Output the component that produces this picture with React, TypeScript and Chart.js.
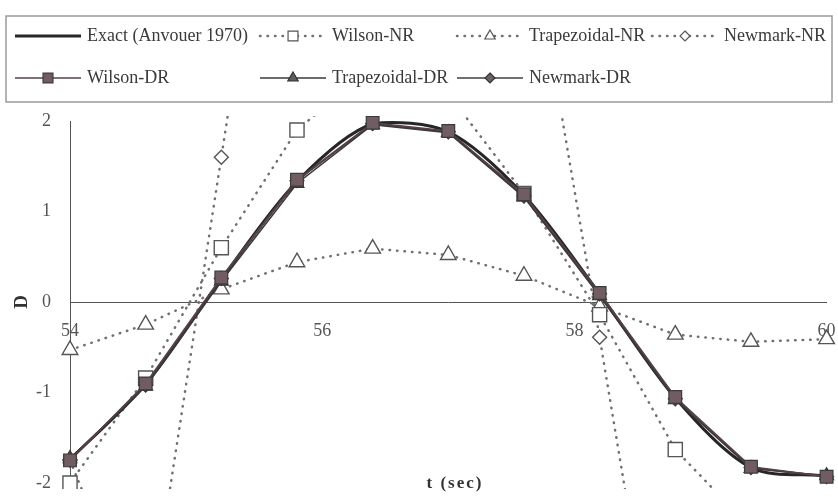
import React, { useEffect, useRef } from 'react';
import { Chart, registerables } from 'chart.js';
Chart.register(...registerables);

// ---- data ----
const times = [54, 54.6, 55.2, 55.8, 56.4, 57.0, 57.6, 58.2, 58.8, 59.4, 60.0];
const exactD = [-1.74, -0.91, 0.25, 1.33, 1.97, 1.88, 1.18, 0.09, -1.06, -1.83, -1.92];
const wilsonNR = [-2.0, -0.84, 0.6, 1.9, 2.6, 2.3, 1.2, -0.14, -1.63, -2.5, -2.9];
const trapNR = [-0.53, -0.25, 0.14, 0.44, 0.59, 0.52, 0.29, -0.05, -0.36, -0.44, -0.41];
const newmarkNR = [-1.75, -3.8, 1.6, 7.0, 6.0, 3.0, 4.5, -0.39, -5.4, -6.0, -4.0];
const wilsonDR = [-1.75, -0.9, 0.27, 1.35, 1.98, 1.89, 1.19, 0.1, -1.05, -1.82, -1.93];
const trapDR = [-1.73, -0.93, 0.23, 1.31, 1.96, 1.87, 1.16, 0.07, -1.08, -1.84, -1.92];
const newmarkDR = [-1.74, -0.92, 0.26, 1.34, 1.97, 1.88, 1.17, 0.09, -1.07, -1.83, -1.93];
const xTickValues = [54, 56, 58, 60];
const yTickValues = [-2, -1, 0, 1, 2];
const xTitle = 't (sec)';
const yTitle = 'D';

const SERIF = '"Liberation Serif", "DejaVu Serif", serif';

const pts = (arr: number[]) => times.map((t, i) => ({ x: t, y: arr[i] }));
const clip = { left: 10, top: 5, right: 10, bottom: 6 };

const dotted = {
  borderColor: '#707070',
  borderWidth: 2.5,
  borderDash: [0.5, 7],
  borderCapStyle: 'round' as const,
  pointBackgroundColor: '#ffffff',
  pointBorderColor: '#555555',
  pointBorderWidth: 1.4,
  tension: 0,
  clip,
};

const legendLayout = [
  { label: 'Exact (Anvouer 1970)', idx: 3, col: 0, row: 0 },
  { label: 'Wilson-NR', idx: 4, col: 1, row: 0 },
  { label: 'Trapezoidal-NR', idx: 5, col: 2, row: 0 },
  { label: 'Newmark-NR', idx: 6, col: 3, row: 0 },
  { label: 'Wilson-DR', idx: 0, col: 0, row: 1 },
  { label: 'Trapezoidal-DR', idx: 1, col: 1, row: 1 },
  { label: 'Newmark-DR', idx: 2, col: 2, row: 1 },
];
const colX = [15, 260, 457, 652];
const rowY = [36, 78];

function drawMarker(ctx: CanvasRenderingContext2D, style: string, x: number, y: number, r: number, fill: string, stroke: string, lw: number) {
  ctx.beginPath();
  if (style === 'rect') {
    const s = r * Math.SQRT1_2;
    ctx.rect(x - s, y - s, 2 * s, 2 * s);
  } else if (style === 'triangle') {
    for (let k = 0; k < 3; k++) {
      const a = -Math.PI / 2 + (k * 2 * Math.PI) / 3;
      const px = x + Math.cos(a) * r;
      const py = y + Math.sin(a) * r;
      if (k === 0) ctx.moveTo(px, py); else ctx.lineTo(px, py);
    }
    ctx.closePath();
  } else if (style === 'rectRot') {
    ctx.moveTo(x, y - r);
    ctx.lineTo(x + r, y);
    ctx.lineTo(x, y + r);
    ctx.lineTo(x - r, y);
    ctx.closePath();
  }
  ctx.fillStyle = fill;
  ctx.fill();
  ctx.lineWidth = lw;
  ctx.strokeStyle = stroke;
  ctx.stroke();
}

const customPlugin = {
  id: 'customDecor',
  afterDraw(chart: any) {
    const ctx: CanvasRenderingContext2D = chart.ctx;
    const area = chart.chartArea;
    ctx.save();
    // legend box
    ctx.strokeStyle = '#9a9a9a';
    ctx.lineWidth = 1.5;
    ctx.strokeRect(6, 16, 826, 86);
    ctx.font = `18px ${SERIF}`;
    ctx.textBaseline = 'middle';
    ctx.textAlign = 'left';
    legendLayout.forEach((it) => {
      const ds = chart.data.datasets[it.idx];
      const x0 = colX[it.col];
      const y = rowY[it.row];
      const w = 66;
      ctx.save();
      ctx.beginPath();
      ctx.strokeStyle = ds.borderColor;
      ctx.lineWidth = ds.borderWidth;
      ctx.lineCap = ds.borderCapStyle || 'butt';
      ctx.setLineDash(ds.borderDash || []);
      ctx.moveTo(x0, y);
      ctx.lineTo(x0 + w, y);
      ctx.stroke();
      ctx.setLineDash([]);
      if (ds.pointRadius > 0) {
        const r = ds.pointStyle === 'rect' ? 7 : ds.pointStyle === 'triangle' ? 6 : 5;
        drawMarker(ctx, ds.pointStyle, x0 + w / 2, y, r, ds.pointBackgroundColor, ds.pointBorderColor, 1.2);
      }
      ctx.restore();
      ctx.fillStyle = '#3a3a3a';
      ctx.fillText(it.label, x0 + w + 6, y);
    });
    // axis titles
    ctx.fillStyle = '#333';
    ctx.font = `bold 17px ${SERIF}`;
    ctx.textAlign = 'center';
    (ctx as any).letterSpacing = '2px';
    ctx.fillText(xTitle, 455, area.bottom + 1);
    (ctx as any).letterSpacing = '0px';
    ctx.save();
    ctx.translate(22, chart.scales.y.getPixelForValue(0));
    ctx.rotate(-Math.PI / 2);
    ctx.font = `bold 19px ${SERIF}`;
    ctx.fillText(yTitle, 0, 0);
    ctx.restore();
    ctx.restore();
  },
};

const bgPlugin = {
  id: 'bg',
  beforeDraw(chart: any) {
    const ctx = chart.ctx;
    ctx.save();
    ctx.fillStyle = '#fff';
    ctx.fillRect(0, 0, chart.width, chart.height);
    ctx.restore();
  },
};

const zeroPad = (scale: any) => {
  scale.paddingTop = 0;
  scale.paddingBottom = 0;
  scale.paddingLeft = 0;
  scale.paddingRight = 0;
};

export default function App() {
  const ref = useRef<HTMLCanvasElement | null>(null);
  useEffect(() => {
    if (!ref.current) return;
    const chart = new Chart(ref.current, {
      type: 'line',
      data: {
        datasets: [
          {
            label: 'Wilson-DR',
            data: pts(wilsonDR),
            borderColor: '#574048',
            borderWidth: 1.6,
            pointStyle: 'rect',
            pointRadius: 9,
            pointBackgroundColor: '#715c61',
            pointBorderColor: '#3b3b3b',
            pointBorderWidth: 1.2,
            tension: 0,
            clip,
          },
          {
            label: 'Trapezoidal-DR',
            data: pts(trapDR),
            borderColor: '#3a3a3a',
            borderWidth: 1.6,
            pointStyle: 'triangle',
            pointRadius: 8,
            pointBackgroundColor: '#5e5e5e',
            pointBorderColor: '#333',
            pointBorderWidth: 1.2,
            tension: 0,
            clip,
          },
          {
            label: 'Newmark-DR',
            data: pts(newmarkDR),
            borderColor: '#404040',
            borderWidth: 1.6,
            pointStyle: 'rectRot',
            pointRadius: 7,
            pointBackgroundColor: '#6e6164',
            pointBorderColor: '#333',
            pointBorderWidth: 1.2,
            tension: 0,
            clip,
          },
          {
            label: 'Exact (Anvouer 1970)',
            data: pts(exactD),
            borderColor: '#262626',
            borderWidth: 3,
            pointRadius: 0,
            tension: 0.3,
            clip,
          },
          { label: 'Wilson-NR', data: pts(wilsonNR), pointStyle: 'rect', pointRadius: 10, ...dotted },
          { label: 'Trapezoidal-NR', data: pts(trapNR), pointStyle: 'triangle', pointRadius: 9, ...dotted },
          { label: 'Newmark-NR', data: pts(newmarkNR), pointStyle: 'rectRot', pointRadius: 7, ...dotted },
        ],
      } as any,
      options: {
        animation: false,
        responsive: false,
        devicePixelRatio: 1,
        layout: { padding: { top: 121, right: 8, bottom: 14, left: 0 } },
        plugins: { legend: { display: false }, tooltip: { enabled: false } },
        scales: {
          x: {
            type: 'linear',
            min: 54,
            max: 60,
            position: { y: 0 } as any,
            grid: { display: false, drawTicks: false },
            border: { display: true, color: '#555', width: 1 },
            afterBuildTicks: (scale: any) => {
              scale.ticks = xTickValues.map((v) => ({ value: v }));
            },
            afterFit: zeroPad,
            ticks: {
              color: '#555',
              font: { family: SERIF, size: 18 },
              padding: 18,
              maxRotation: 0,
              autoSkip: false,
            },
          },
          y: {
            type: 'linear',
            min: -2,
            max: 2,
            grid: { display: false, drawTicks: false },
            border: { display: true, color: '#555', width: 1 },
            afterBuildTicks: (scale: any) => {
              scale.ticks = yTickValues.map((v) => ({ value: v }));
            },
            afterFit: (scale: any) => {
              scale.width = 70;
              zeroPad(scale);
            },
            ticks: {
              color: '#555',
              font: { family: SERIF, size: 18 },
              padding: 19,
            },
          },
        },
      } as any,
      plugins: [bgPlugin, customPlugin],
    });
    return () => chart.destroy();
  }, []);
  return (
    <div style={{ position: 'fixed', left: 0, top: 0, width: 838, height: 497, background: '#fff' }}>
      <canvas ref={ref} width={838} height={497} style={{ display: 'block', width: 838, height: 497 }} />
    </div>
  );
}
